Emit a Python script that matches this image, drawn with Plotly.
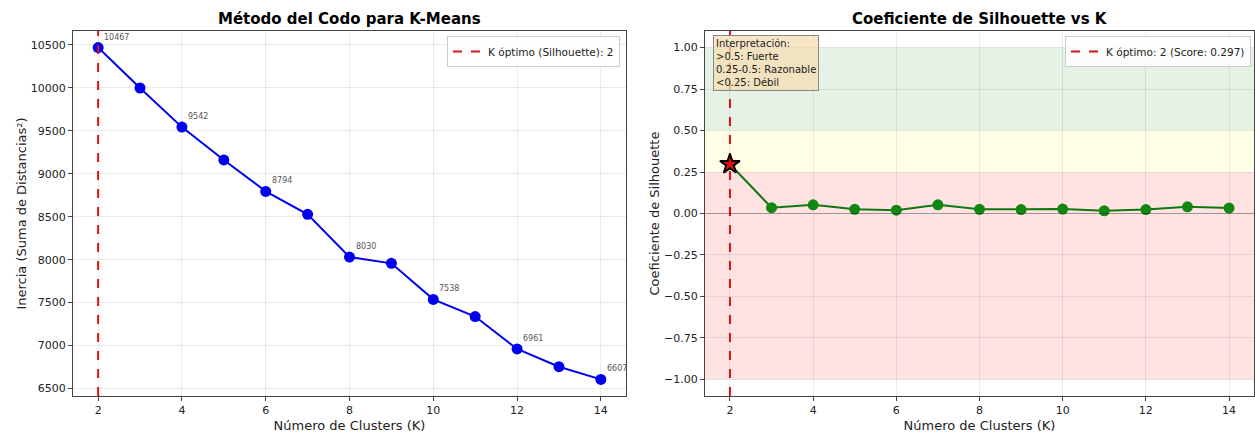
import plotly.graph_objects as go

k_values = [2, 3, 4, 5, 6, 7, 8, 9, 10, 11, 12, 13, 14]
inertia = [10467, 9997, 9542, 9160, 8794, 8528, 8030, 7957, 7538, 7338, 6961, 6755, 6607]
silhouette = [0.297, 0.035, 0.052, 0.025, 0.020, 0.052, 0.025, 0.024, 0.027, 0.016, 0.024, 0.040, 0.033]
labeled_k = [2, 4, 6, 8, 10, 12, 14]
best_k = 2
best_score = 0.297
inertia_ticks = [6500, 7000, 7500, 8000, 8500, 9000, 9500, 10000, 10500]
sil_ticks = [-1.0, -0.75, -0.5, -0.25, 0, 0.25, 0.5, 0.75, 1.0]
k_ticks = [2, 4, 6, 8, 10, 12, 14]

W, H = 1255, 433
def px(x):
    return x / W
def py(y):
    return 1 - y / H

fig = go.Figure()

# ---- left: elbow ----
ymin, ymax = 6414, 10660
fig.add_trace(go.Scatter(x=k_values, y=inertia, mode="lines+markers",
                         line=dict(color="#0000ee", width=2),
                         marker=dict(color="#0000ee", size=11),
                         showlegend=False, xaxis="x", yaxis="y", hoverinfo="skip"))
fig.add_trace(go.Scatter(x=[best_k, best_k], y=[ymin, ymax], mode="lines",
                         line=dict(color="#dd1111", width=2, dash="dash"),
                         name=f"K óptimo (Silhouette): {best_k}",
                         xaxis="x", yaxis="y", legend="legend"))

annotations = []
for k, v in zip(k_values, inertia):
    if k in labeled_k:
        annotations.append(dict(x=k, y=v, xref="x", yref="y", text=str(v),
                                showarrow=False, xanchor="left", yanchor="bottom",
                                xshift=4, yshift=4,
                                font=dict(size=8, color="#555555", family="DejaVu Sans")))

# ---- right: silhouette ----
fig.add_trace(go.Scatter(x=k_values, y=silhouette, mode="lines+markers",
                         line=dict(color="#117711", width=2),
                         marker=dict(color="#118811", size=11),
                         showlegend=False, xaxis="x2", yaxis="y2", hoverinfo="skip"))
fig.add_trace(go.Scatter(x=[best_k, best_k], y=[-1.1, 1.1], mode="lines",
                         line=dict(color="#dd1111", width=2, dash="dash"),
                         name=f"K óptimo: {best_k} (Score: {best_score:.3f})",
                         xaxis="x2", yaxis="y2", legend="legend2"))
fig.add_trace(go.Scatter(x=[best_k], y=[best_score], mode="markers",
                         marker=dict(symbol="star", size=15, color="#dd1111",
                                     line=dict(color="black", width=2)),
                         showlegend=False, xaxis="x2", yaxis="y2", hoverinfo="skip"))

shapes = [
    dict(type="rect", xref="x2 domain", yref="y2", x0=0, x1=1, y0=0.5, y1=1.0,
         fillcolor="rgba(0,128,0,0.10)", line=dict(width=0), layer="below"),
    dict(type="rect", xref="x2 domain", yref="y2", x0=0, x1=1, y0=0.25, y1=0.5,
         fillcolor="rgba(255,255,0,0.10)", line=dict(width=0), layer="below"),
    dict(type="rect", xref="x2 domain", yref="y2", x0=0, x1=1, y0=-1.0, y1=0.25,
         fillcolor="rgba(255,0,0,0.11)", line=dict(width=0), layer="below"),
    dict(type="line", xref="x2 domain", yref="y2", x0=0, x1=1, y0=0, y1=0,
         line=dict(color="rgba(0,0,0,0.3)", width=1)),
]

annotations.append(dict(x=px(713), y=py(35), xref="paper", yref="paper",
                        text="Interpretación:<br>>0.5: Fuerte<br>0.25-0.5: Razonable<br><0.25: Débil",
                        showarrow=False, xanchor="left", yanchor="top", align="left",
                        bgcolor="rgba(245,222,179,0.75)", bordercolor="#888888", borderwidth=1,
                        borderpad=2, font=dict(size=10, color="#222222", family="DejaVu Sans")))

# titles
annotations.append(dict(x=(73 + 626) / 2 / W, y=py(19), xref="paper", yref="paper",
                        xanchor="center", yanchor="middle",
                        text="<b>Método del Codo para K-Means</b>", showarrow=False,
                        font=dict(size=15, color="black", family="DejaVu Sans")))
annotations.append(dict(x=(705 + 1254) / 2 / W, y=py(19), xref="paper", yref="paper",
                        xanchor="center", yanchor="middle",
                        text="<b>Coeficiente de Silhouette vs K</b>", showarrow=False,
                        font=dict(size=15, color="black", family="DejaVu Sans")))

axis_common = dict(showline=True, mirror=True, linecolor="#444444", linewidth=1.2,
                   showgrid=True, gridcolor="rgba(0,0,0,0.08)", gridwidth=1,
                   ticks="outside", ticklen=4, tickcolor="#444444", zeroline=False,
                   tickfont=dict(size=11, color="#222222", family="DejaVu Sans"))

fig.update_layout(
    width=W, height=H, margin=dict(l=0, r=0, t=0, b=0),
    paper_bgcolor="white", plot_bgcolor="white",
    font=dict(family="DejaVu Sans", color="#222222"),
    xaxis=dict(domain=[px(73), px(626)], range=[1.4, 14.6], tickvals=k_ticks,
               title=dict(text="Número de Clusters (K)", font=dict(size=13), standoff=4),
               anchor="y", **axis_common),
    yaxis=dict(domain=[py(396), py(31)], range=[ymin, ymax],
               tickvals=inertia_ticks, ticktext=[str(t) for t in inertia_ticks],
               title=dict(text="Inercia (Suma de Distancias²)", font=dict(size=13), standoff=1),
               anchor="x", **axis_common),
    xaxis2=dict(domain=[px(705), px(1254)], range=[1.4, 14.6], tickvals=k_ticks,
                title=dict(text="Número de Clusters (K)", font=dict(size=13), standoff=4),
                anchor="y2", **axis_common),
    yaxis2=dict(domain=[py(396), py(31)], range=[-1.1, 1.1],
                tickvals=sil_ticks, ticktext=[f"{t:.2f}".replace("-", "−") for t in sil_ticks],
                title=dict(text="Coeficiente de Silhouette", font=dict(size=13), standoff=1),
                anchor="x2", **axis_common),
    legend=dict(x=px(620), y=py(36), xanchor="right", yanchor="top",
                bgcolor="rgba(255,255,255,0.85)", bordercolor="#cccccc", borderwidth=1,
                font=dict(size=10.5, color="#222222")),
    legend2=dict(x=px(1251), y=py(36), xanchor="right", yanchor="top",
                 bgcolor="rgba(255,255,255,0.85)", bordercolor="#cccccc", borderwidth=1,
                 font=dict(size=10.5, color="#222222")),
    shapes=shapes,
    annotations=annotations,
)

fig.write_html("out.html")
